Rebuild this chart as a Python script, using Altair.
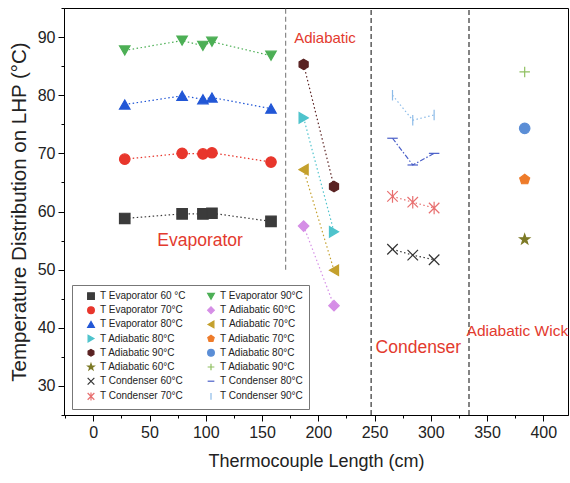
import altair as alt
import pandas as pd

# ---- data ----
evap_x = [28, 79, 97.5, 105.5, 158]
evap60 = [58.8, 59.6, 59.6, 59.7, 58.3]
evap70 = [69.0, 70.0, 69.9, 70.1, 68.5]
evap80 = [78.4, 79.9, 79.3, 79.6, 77.7]
evap90 = [87.7, 89.4, 88.5, 89.2, 86.8]

adia_x = [187, 214]
adia60 = [57.5, 43.8]
adia70 = [67.2, 49.9]
adia80 = [76.1, 56.5]
adia90 = [85.3, 64.3]

cond_x = [266, 284, 303]
cond60 = [53.5, 52.5, 51.7]
cond70 = [62.6, 61.6, 60.6]
cond80 = [72.6, 68.0, 70.0]
cond90 = [80.0, 75.7, 76.6]

wick_x = [383.5]
wick60 = [55.2]
wick70 = [65.5]
wick80 = [74.3]
wick90 = [84.0]

x_major = [0, 50, 100, 150, 200, 250, 300, 350, 400]
x_minor = [-25, 25, 75, 125, 175, 225, 275, 325, 375]
y_major = [30, 40, 50, 60, 70, 80, 90]
y_minor = [25, 35, 45, 55, 65, 75, 85, 95]

NB = "\u00a0"
# legend order (column-major, 2 columns of 8)
series_names = [
    "T Evaporator 60 °C", "T Evaporator 70°C", "T Evaporator 80°C",
    "T Adiabatic 80°C", "T Adiabatic 90°C", "T Adiabatic 60°C",
    "T Condenser 60°C", "T Condenser 70°C",
    "T Evaporator 90°C", "T" + NB + "Adiabatic 60°C", "T" + NB + "Adiabatic 70°C",
    "T Adiabatic 70°C", "T Adiabatic 80°C" + NB, "T Adiabatic 90°C" + NB,
    "T Condenser 80°C", "T Condenser 90°C",
]
series_data = [
    (evap_x, evap60), (evap_x, evap70), (evap_x, evap80),
    (adia_x, adia80), (adia_x, adia90), (wick_x, wick60),
    (cond_x, cond60), (cond_x, cond70),
    (evap_x, evap90), (adia_x, adia60), (adia_x, adia70),
    (wick_x, wick70), (wick_x, wick80), (wick_x, wick90),
    (cond_x, cond80), (cond_x, cond90),
]

HEX = "M0,-1L0.866,-0.5L0.866,0.5L0,1L-0.866,0.5L-0.866,-0.5Z"
PENT = "M0,-1L0.951,-0.309L0.588,0.809L-0.588,0.809L-0.951,-0.309Z"
STAR = ("M0,-1L0.235,-0.324L0.951,-0.309L0.380,0.124L0.588,0.809L0,0.4"
        "L-0.588,0.809L-0.380,0.124L-0.951,-0.309L-0.235,-0.324Z")
XSH = "M-1,-1L1,1M-1,1L1,-1"
AST = "M-1,-1L1,1M-1,1L1,-1M0,-1.2L0,1.2"
PLUS = "M-1,0L1,0M0,-1L0,1"
DASH = "M-1,0L1,0"
BAR = "M0,-1L0,1"

shapes = ["square", "circle", "triangle-up",
          "triangle-right", HEX, STAR,
          XSH, AST,
          "triangle-down", "diamond", "triangle-left",
          PENT, "circle", PLUS,
          DASH, BAR]
colors = ["#3b3b3b", "#e8362c", "#2257d6",
          "#4ec3cc", "#5a2222", "#7d7a26",
          "#333333", "#e87070",
          "#4caf55", "#d58ee6", "#c4a02c",
          "#ee7b2a", "#5b8ed6", "#8fc060",
          "#4a5fc8", "#8cbbe8"]
stroke_only = {PLUS, XSH, DASH, AST, BAR}
fills = ["transparent" if s in stroke_only else c for s, c in zip(shapes, colors)]

rows = []
for name, (xs, ys) in zip(series_names, series_data):
    for xv, yv in zip(xs, ys):
        rows.append({"series": name, "x": xv, "y": yv})
df = pd.DataFrame(rows)

# connected series (single wick points are not joined)
line_names = [n for n, (xs, _) in zip(series_names, series_data) if len(xs) > 1]
line_colors = [c for n, c in zip(series_names, colors) if n in line_names]
line_dashes = [[5, 2, 1.5, 2] if n == "T Condenser 80°C" else [1.5, 2.5] for n in line_names]
df_lines = df[df["series"].isin(line_names)]

# section dividers and labels
div1 = pd.DataFrame({"x": [171], "y": [50], "y2": [95]})
div2 = pd.DataFrame({"x": [247, 334], "y": [25, 25], "y2": [95, 95]})

lab_text = ["Evaporator", "Adiabatic", "Condenser", "Adiabatic Wick"]
lab_x = [95, 206, 289, 377]
lab_y = [55.0, 89.8, 36.5, 39.4]
lab_size = [17.5, 15, 17.5, 15.5]
labs = pd.DataFrame({"t": lab_text, "x": lab_x, "y": lab_y, "s": lab_size})

FONT = "Liberation Sans"
xscale = alt.Scale(domain=[-26, 422], nice=False)
yscale = alt.Scale(domain=[25, 95], nice=False)

xaxis = alt.Axis(values=x_major, tickSize=6, title="Thermocouple Length (cm)",
                 grid=False, orient="bottom", titleFontSize=18, titlePadding=12)
yaxis = alt.Axis(values=y_major, tickSize=6, title="Temperature Distribution on LHP (°C)",
                 grid=False, orient="left", titleFontSize=20.5, titlePadding=8)
xminor = alt.Axis(values=x_minor, tickSize=3, labels=False, domain=False, title=None,
                  grid=False, orient="bottom")
yminor = alt.Axis(values=y_minor, tickSize=3, labels=False, domain=False, title=None,
                  grid=False, orient="left")

rules1 = alt.Chart(div1).mark_rule(strokeDash=[5, 3], strokeWidth=1.2, color="#888888").encode(
    x=alt.X("x:Q", scale=xscale, axis=xaxis),
    y=alt.Y("y:Q", scale=yscale, axis=yaxis),
    y2="y2:Q",
)
rules2 = alt.Chart(div2).mark_rule(strokeDash=[5, 3], strokeWidth=1.2, color="#333333").encode(
    x=alt.X("x:Q", scale=xscale, axis=None),
    y=alt.Y("y:Q", scale=yscale, axis=None),
    y2="y2:Q",
)

lines = alt.Chart(df_lines).mark_line(strokeWidth=1.2).encode(
    x=alt.X("x:Q", scale=xscale, axis=None),
    y=alt.Y("y:Q", scale=yscale, axis=None),
    color=alt.Color("series:N", scale=alt.Scale(domain=line_names, range=line_colors), legend=None),
    strokeDash=alt.StrokeDash("series:N", scale=alt.Scale(domain=line_names, range=line_dashes), legend=None),
)

leg = alt.Legend(
    title=None, orient="none", legendX=8, legendY=277, columns=2,
    labelFont=FONT, labelFontSize=10, labelColor="#222", symbolSize=45,
    symbolStrokeWidth=1.2, rowPadding=2.2, columnPadding=12, padding=6,
    strokeColor="#777777", fillColor="white", labelLimit=200, symbolOffset=8,
)

points = alt.Chart(df).mark_point(filled=False, size=110, strokeWidth=1.2, opacity=1).encode(
    x=alt.X("x:Q", scale=xscale, axis=None),
    y=alt.Y("y:Q", scale=yscale, axis=None),
    fill=alt.Fill("series:N", scale=alt.Scale(domain=series_names, range=fills), legend=leg),
    stroke=alt.Stroke("series:N", scale=alt.Scale(domain=series_names, range=colors), legend=leg),
    shape=alt.Shape("series:N", scale=alt.Scale(domain=series_names, range=shapes), legend=leg),
)

texts = alt.Chart(labs).mark_text(font=FONT, color="#e33a2e").encode(
    x=alt.X("x:Q", scale=xscale, axis=xminor),
    y=alt.Y("y:Q", scale=yscale, axis=yminor),
    size=alt.Size("s:Q", scale=None),
    text="t:N",
)

chart = alt.layer(rules1, rules2, lines, points, texts).resolve_axis(
    x="independent", y="independent"
).properties(
    width=504, height=407,
    autosize=alt.AutoSizeParams(type="none"),
    padding={"left": 64, "top": 8, "right": 2, "bottom": 68},
).configure_view(
    stroke="black", strokeWidth=1,
).configure_axis(
    labelFont=FONT, labelFontSize=16, labelColor="#222",
    titleFont=FONT, titleFontWeight="normal", titleColor="#222",
    domainColor="black", tickColor="black", labelPadding=3,
)

chart.save("out.html", embed_options={"renderer": "svg", "actions": False})
